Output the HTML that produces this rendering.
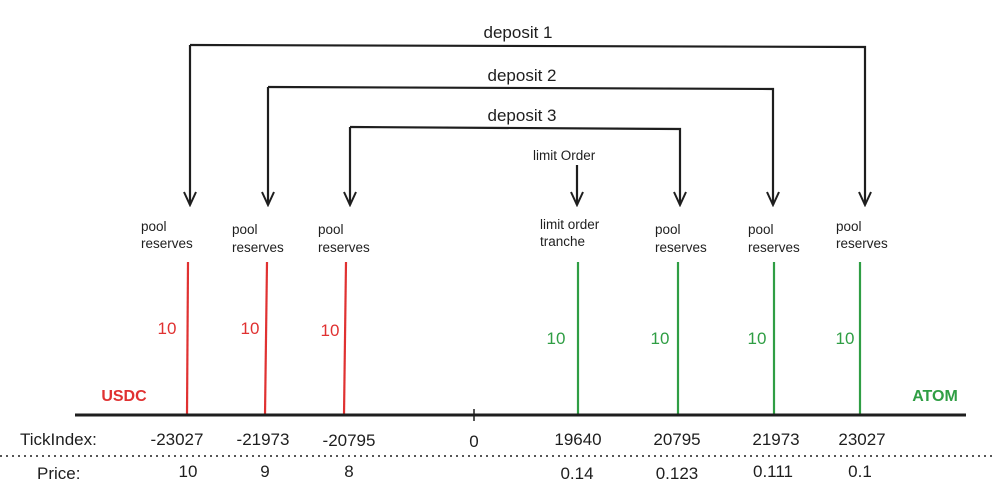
<!DOCTYPE html>
<html><head><meta charset="utf-8"><style>
html,body{margin:0;padding:0;background:#fff;}
svg text{font-family:"Liberation Sans",sans-serif;}
</style></head><body>
<svg width="996" height="491" viewBox="0 0 996 491" xmlns="http://www.w3.org/2000/svg">
<defs>
<marker id="a" markerWidth="16" markerHeight="16" refX="14" refY="7" orient="auto" markerUnits="userSpaceOnUse">
<path d="M1,1 L14,7 L1,13" fill="none" stroke="#1e1e1e" stroke-width="2"/>
</marker>
</defs>
<g fill="none" stroke="#1e1e1e" stroke-width="2.2">
<polyline points="190,45 865,47 865,205" marker-end="url(#a)"/>
<line x1="190" y1="45" x2="190" y2="205" marker-end="url(#a)"/>
<polyline points="268,87 773,89 773,205" marker-end="url(#a)"/>
<line x1="268" y1="87" x2="268" y2="205" marker-end="url(#a)"/>
<polyline points="350,127 680,129 680,205" marker-end="url(#a)"/>
<line x1="350" y1="127" x2="350" y2="205" marker-end="url(#a)"/>
<line x1="577" y1="165" x2="577" y2="205" marker-end="url(#a)"/>
</g>
<g font-size="17" fill="#1e1e1e" text-anchor="middle">
<text x="518" y="38">deposit 1</text>
<text x="522" y="81">deposit 2</text>
<text x="522" y="121">deposit 3</text>
</g>
<g font-size="13.5" fill="#1e1e1e">
<text x="533" y="160">limit Order</text>
<text x="141" y="231">pool</text><text x="141" y="248">reserves</text>
<text x="232" y="234">pool</text><text x="232" y="252">reserves</text>
<text x="318" y="234">pool</text><text x="318" y="252">reserves</text>
<text x="540" y="229">limit order</text><text x="540" y="246">tranche</text>
<text x="655" y="234">pool</text><text x="655" y="252">reserves</text>
<text x="748" y="234">pool</text><text x="748" y="252">reserves</text>
<text x="836" y="231">pool</text><text x="836" y="248">reserves</text>
</g>
<g stroke="#e03131" stroke-width="2.2">
<line x1="188" y1="262" x2="187" y2="415"/>
<line x1="267" y1="262" x2="265" y2="415"/>
<line x1="346" y1="262" x2="344" y2="415"/>
</g>
<g stroke="#2f9e44" stroke-width="2.2">
<line x1="578" y1="262" x2="578" y2="415"/>
<line x1="678" y1="262" x2="678" y2="415"/>
<line x1="774" y1="262" x2="774" y2="415"/>
<line x1="860" y1="262" x2="860" y2="415"/>
</g>
<g font-size="17" fill="#e03131" text-anchor="middle">
<text x="167" y="334">10</text><text x="250" y="334">10</text><text x="330" y="336">10</text>
<text x="124" y="401" font-weight="bold" font-size="16">USDC</text>
</g>
<g font-size="17" fill="#2f9e44" text-anchor="middle">
<text x="556" y="344">10</text><text x="660" y="344">10</text><text x="757" y="344">10</text><text x="845" y="344">10</text>
<text x="935" y="401" font-weight="bold" font-size="16">ATOM</text>
</g>
<line x1="75" y1="415" x2="966" y2="415" stroke="#1e1e1e" stroke-width="3"/>
<line x1="474" y1="409" x2="474" y2="421" stroke="#1e1e1e" stroke-width="1.5"/>
<line x1="0" y1="456" x2="996" y2="456" stroke="#1e1e1e" stroke-width="1.5" stroke-dasharray="2,4"/>
<g font-size="17" fill="#1e1e1e" text-anchor="middle">
<text x="20" y="445" text-anchor="start">TickIndex:</text>
<text x="177" y="445">-23027</text><text x="263" y="445">-21973</text><text x="349" y="446">-20795</text>
<text x="474" y="447">0</text><text x="578" y="445">19640</text><text x="677" y="445">20795</text>
<text x="776" y="445">21973</text><text x="862" y="445">23027</text>
<text x="37" y="479" text-anchor="start">Price:</text>
<text x="188" y="477">10</text><text x="265" y="477">9</text><text x="349" y="477">8</text>
<text x="577" y="479">0.14</text><text x="677" y="479">0.123</text><text x="773" y="477">0.111</text><text x="860" y="477">0.1</text>
</g>
</svg>
</body></html>
